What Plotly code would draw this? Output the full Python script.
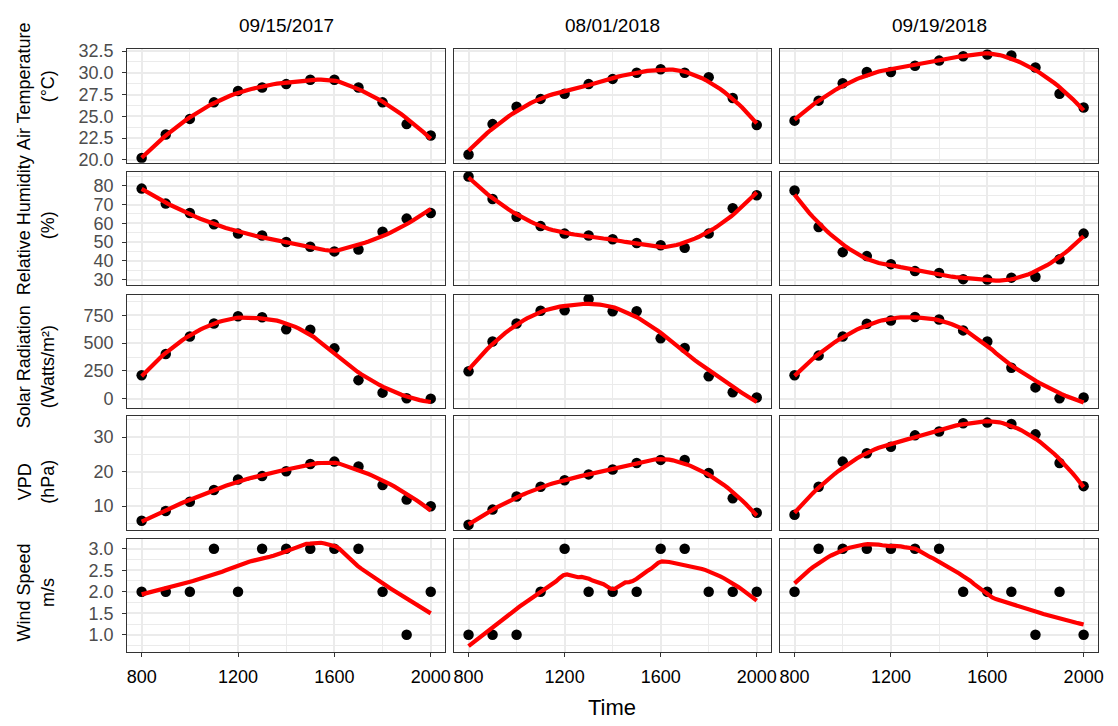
import numpy as np
import plotly.graph_objects as go

# ---------------- data ----------------
time = [800, 900, 1000, 1100, 1200, 1300, 1400, 1500, 1600, 1700, 1800, 1900, 2000]
dates = ["09/15/2017", "08/01/2018", "09/19/2018"]

air_temp_20170915 = [20.2, 22.9, 24.7, 26.6, 27.9, 28.3, 28.7, 29.2, 29.2, 28.3, 26.6, 24.1, 22.8]
air_temp_20180801 = [20.6, 24.1, 26.1, 27.0, 27.6, 28.7, 29.3, 30.0, 30.4, 30.0, 29.5, 27.1, 24.0]
air_temp_20180919 = [24.5, 26.8, 28.8, 30.1, 30.1, 30.8, 31.4, 31.9, 32.1, 32.0, 30.6, 27.6, 26.0]

rh_20170915 = [78.5, 70.5, 65.5, 59.5, 54.5, 53.5, 50.0, 47.5, 45.0, 46.0, 55.5, 62.5, 65.5]
rh_20180801 = [85.0, 73.0, 63.5, 58.5, 54.5, 53.5, 51.5, 49.5, 48.3, 46.9, 54.5, 68.0, 75.0]
rh_20180919 = [77.5, 58.0, 44.6, 42.5, 38.2, 34.5, 33.5, 30.2, 30.0, 31.0, 31.5, 40.8, 54.5]

solar_20170915 = [212, 403, 559, 676, 741, 732, 625, 620, 453, 168, 56, 5, 2]
solar_20180801 = [247, 514, 676, 791, 795, 895, 785, 785, 544, 456, 203, 59, 12]
solar_20180919 = [212, 388, 559, 673, 703, 735, 711, 614, 515, 279, 103, 6, 12]

vpd_20170915 = [5.8, 8.6, 11.3, 14.7, 17.7, 18.7, 20.1, 22.2, 22.9, 21.5, 16.1, 11.9, 10.0]
vpd_20180801 = [4.6, 9.0, 12.8, 15.6, 17.5, 19.2, 20.6, 22.5, 23.4, 23.4, 19.6, 12.3, 8.1]
vpd_20180919 = [7.5, 15.6, 22.9, 25.3, 27.2, 30.5, 31.6, 34.0, 34.2, 33.8, 30.8, 22.5, 15.8]

wind_20170915 = [2, 2, 2, 3, 2, 3, 3, 3, 3, 3, 2, 1, 2]
wind_20180801 = [1, 1, 1, 2, 3, 2, 2, 2, 3, 3, 2, 2, 2]
wind_20180919 = [2, 3, 3, 3, 3, 3, 3, 2, 2, 2, 1, 2, 1]

variables = [
    ("Air Temperature<br>(°C)", [air_temp_20170915, air_temp_20180801, air_temp_20180919]),
    ("Relative Humidity<br>(%)", [rh_20170915, rh_20180801, rh_20180919]),
    ("Solar Radiation<br>(Watts/m²)", [solar_20170915, solar_20180801, solar_20180919]),
    ("VPD<br>(hPa)", [vpd_20170915, vpd_20180801, vpd_20180919]),
    ("Wind Speed<br>m/s", [wind_20170915, wind_20180801, wind_20180919]),
]

# ---------------- loess smoother (like geom_smooth) ----------------
def loess(x, y, xs, span=0.75):
    x = np.asarray(x, float)
    y = np.asarray(y, float)
    n = len(x)
    q = int(np.floor(n * span))
    out = []
    for x0 in xs:
        d = np.abs(x - x0)
        h = np.sort(d)[q - 1] * 1.0000001
        w = np.clip(1 - (d / h) ** 3, 0, None) ** 3
        X = np.vstack([np.ones(n), x - x0, (x - x0) ** 2]).T
        A = X.T @ (w[:, None] * X)
        b = X.T @ (w * y)
        beta = np.linalg.solve(A, b)
        out.append(beta[0])
    return np.array(out)

# ---------------- layout geometry ----------------
W, H = 1118, 726
col_px = [(127, 447), (456, 775), (784, 1104)]
row_px = [(42, 158), (167, 283), (293, 408), (417, 533), (542, 658)]
y_ranges = [[19.66, 32.72], [27.0, 87.6], [-78, 932], [3.1, 36.0], [0.59, 3.23]]
y_ticks = [(20, 2.5, ".1f"), (30, 10, ""), (0, 250, ""), (10, 10, ""), (1, 0.5, ".1f")]
title_centers = [80, 222, 366, 484, 597]

FONT = "Liberation Sans, Arial, sans-serif"
GRID = "#EBEBEB"
LINE = "#333333"

fig = go.Figure()
layout = {}
xs = np.linspace(800, 2000, 80)

for r, (title, series) in enumerate(variables):
    for c in range(3):
        k = r * 3 + c + 1
        xa = "x" if k == 1 else f"x{k}"
        ya = "y" if k == 1 else f"y{k}"
        yvals = series[c]
        fig.add_trace(go.Scatter(x=time, y=yvals, mode="markers", xaxis=xa, yaxis=ya,
                                 marker=dict(color="black", size=10.5, line=dict(width=0)),
                                 showlegend=False, hoverinfo="x+y"))
        fig.add_trace(go.Scatter(x=xs, y=loess(time, yvals, xs), mode="lines", xaxis=xa, yaxis=ya,
                                 line=dict(color="#FF0000", width=4.2),
                                 showlegend=False, hoverinfo="skip"))
        x0, x1 = col_px[c]
        yt, yb = row_px[r]
        t0, dt, fmt = y_ticks[r]
        layout["xaxis" if k == 1 else f"xaxis{k}"] = dict(
            domain=[x0 / W, x1 / W], anchor=ya, range=[740, 2060],
            tickmode="linear", tick0=800, dtick=400,
            showgrid=True, gridcolor=GRID, gridwidth=1.6,
            minor=dict(tickmode="linear", tick0=800, dtick=200, showgrid=True, gridcolor=GRID, gridwidth=0.8),
            showline=True, mirror=True, linecolor=LINE, linewidth=1, zeroline=False,
            showticklabels=(r == 4), ticks="outside" if r == 4 else "", ticklen=4, tickwidth=1,
            tickcolor=LINE, tickfont=dict(family=FONT, size=18, color="black"),
            ticklabelstandoff=4,
            fixedrange=True,
        )
        layout["yaxis" if k == 1 else f"yaxis{k}"] = dict(
            domain=[1 - yb / H, 1 - yt / H], anchor=xa, range=y_ranges[r],
            tickmode="linear", tick0=t0, dtick=dt, tickformat=fmt,
            showgrid=True, gridcolor=GRID, gridwidth=1.6,
            minor=dict(tickmode="linear", tick0=t0, dtick=dt / 2, showgrid=True, gridcolor=GRID, gridwidth=0.8),
            showline=True, mirror=True, linecolor=LINE, linewidth=1, zeroline=False,
            showticklabels=(c == 0), ticks="outside" if c == 0 else "", ticklen=4, tickwidth=1,
            tickcolor=LINE, tickfont=dict(family=FONT, size=18, color="#4D4D4D"),
            ticklabelstandoff=5,
            fixedrange=True,
        )

annotations = []
for c, d in enumerate(dates):
    x0, x1 = col_px[c]
    annotations.append(dict(text=d, x=(x0 + x1) / 2 / W, y=1 - 18 / H, xref="paper", yref="paper",
                            xanchor="center", yanchor="middle", showarrow=False,
                            font=dict(family=FONT, size=19, color="black")))
for r, (title, _) in enumerate(variables):
    annotations.append(dict(text=title, x=35 / W, y=1 - title_centers[r] / H, xref="paper", yref="paper",
                            xanchor="center", yanchor="middle", showarrow=False, textangle=-90,
                            font=dict(family=FONT, size=18, color="black")))
annotations.append(dict(text="Time", x=615 / W, y=1 - 714 / H, xref="paper", yref="paper",
                        xanchor="center", yanchor="middle", showarrow=False,
                        font=dict(family=FONT, size=22, color="black")))

fig.update_layout(
    width=W, height=H, margin=dict(l=0, r=0, t=0, b=0),
    paper_bgcolor="white", plot_bgcolor="white",
    annotations=annotations, showlegend=False,
    **layout,
)

fig.write_html("out.html")
